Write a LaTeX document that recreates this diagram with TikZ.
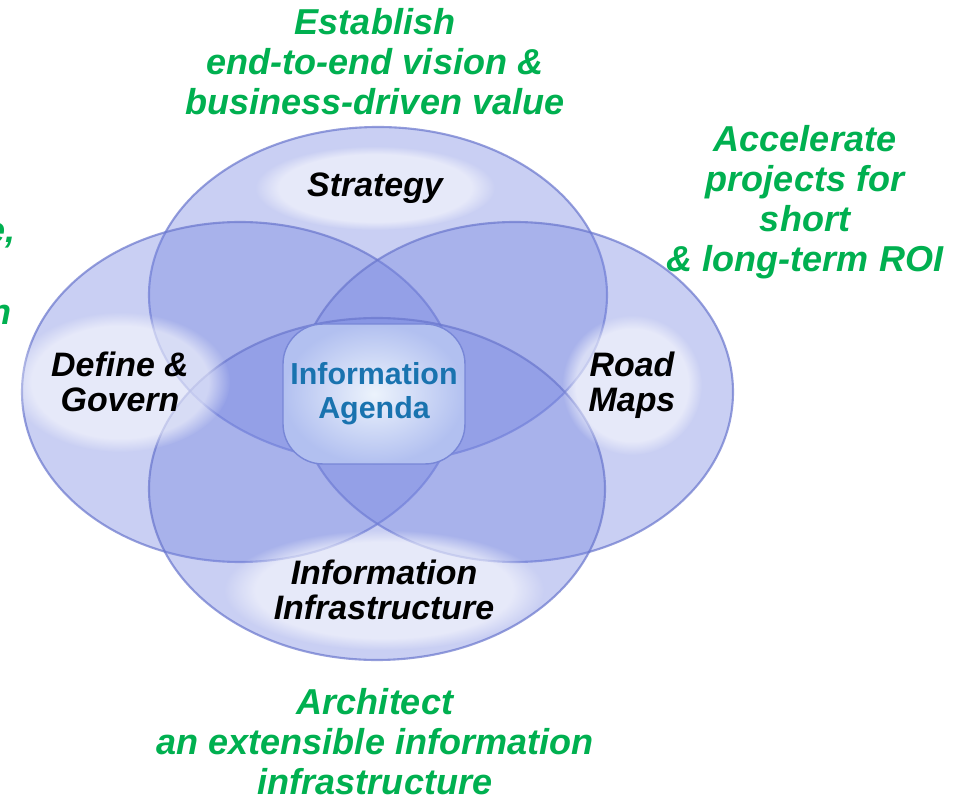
\documentclass[tikz,border=0pt]{standalone}
\usepackage{fontspec}
\setmainfont{Liberation Sans}
\usepackage{xcolor}
\usetikzlibrary{fadings}

\definecolor{goalgreen}{RGB}{0,176,80}
\definecolor{hubblue}{RGB}{25,115,175}
\definecolor{ringfill}{RGB}{120,135,225}
\definecolor{ringedge}{RGB}{105,118,205}

\begin{document}
\begin{tikzpicture}[
    x=0.02cm, y=-0.02cm,
    ring/.style={fill=ringfill, fill opacity=0.4, draw=ringedge, draw opacity=0.7, line width=1.2pt},
    glow/.style={fill=white, opacity=0.55, path fading=circle with fuzzy edge 20 percent},
    goal/.style={font=\fontsize{20.5}{22.8}\selectfont\bfseries\itshape, text=goalgreen, align=center, inner sep=0pt},
    part/.style={font=\fontsize{19.3}{20}\selectfont\bfseries\itshape, align=center, inner sep=0pt},
    hub/.style={font=\fontsize{17.3}{19.3}\selectfont\bfseries, text=hubblue, align=center, inner sep=0pt,
        minimum width=3.64cm, minimum height=2.8cm, rounded corners=0.8cm,
        inner color={rgb,255:red,236;green,243;blue,252}, outer color={rgb,255:red,178;green,192;blue,240},
        draw={rgb,255:red,120;green,135;blue,215}, line width=0.8pt}
]
    \useasboundingbox[fill=white] (0,0) rectangle (954,800);

    % Rings
    \draw[ring] (378,295) ellipse [x radius=229, y radius=168];
    \draw[ring] (240,392) ellipse [x radius=218, y radius=170];
    \draw[ring] (515,392) ellipse [x radius=218, y radius=170];
    \draw[ring] (377,489) ellipse [x radius=228, y radius=171];

    % Label spots
    \coordinate (strat) at (375,188);
    \coordinate (defgov) at (120,382);
    \coordinate (roadmap) at (632,385);
    \coordinate (infra) at (384,590);

    % Glows
    \fill[glow] (strat) ellipse [x radius=120, y radius=42];
    \fill[glow] (defgov) ellipse [x radius=110, y radius=70];
    \fill[glow] (roadmap) ellipse [x radius=70, y radius=70];
    \fill[glow] (infra) ellipse [x radius=160, y radius=60];

    % Hub
    \node[hub] (agenda) at (374,394) {Information\\Agenda};

    % Parts
    \node[part] (stratlbl) at (strat) {Strategy};
    \node[part] (defgovlbl) at (defgov) {Define \&\\Govern};
    \node[part] (roadmaplbl) at (roadmap) {Road\\Maps};
    \node[part] (infralbl) at (infra) {Information\\Infrastructure};

    % Goals
    \node[goal] (vision) at (375,62) {Establish\\end-to-end vision \&\\business-driven value};
    \node[goal] (roi) at (805,202) {Accelerate\\projects for\\short\\\& long-term ROI};
    \node[goal] (arch) at (375,742) {Architect\\an extensible information\\infrastructure};
    \node[goal, anchor=base east] (cutone) at (16,243) {e,};
    \node[goal, anchor=base east] (cuttwo) at (12,325) {n};
\end{tikzpicture}
\end{document}
